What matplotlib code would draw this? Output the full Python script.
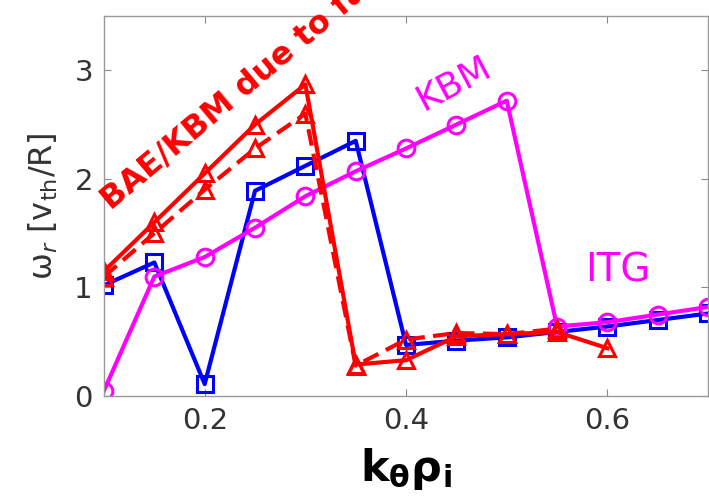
import matplotlib.pyplot as plt
import numpy as np

# k_theta rho_i values
k = [0.1, 0.15, 0.2, 0.25, 0.3, 0.35, 0.4, 0.45, 0.5, 0.55, 0.6, 0.65, 0.7]

w_blue = [1.02, 1.23, 0.11, 1.89, 2.12, 2.35, 0.47, 0.51, 0.54, 0.59, 0.64, 0.70, 0.76]
w_magenta = [0.05, 1.10, 1.28, 1.55, 1.84, 2.07, 2.28, 2.50, 2.72, 0.64, 0.68, 0.75, 0.82]
k_red = [0.1, 0.15, 0.2, 0.25, 0.3, 0.35, 0.4, 0.45, 0.5, 0.55, 0.6]
w_red = [1.15, 1.60, 2.05, 2.50, 2.87, 0.29, 0.33, 0.55, 0.57, 0.59, 0.44]
k_red_dash = [0.1, 0.15, 0.2, 0.25, 0.3, 0.35, 0.4, 0.45, 0.5, 0.55]
w_red_dash = [1.10, 1.50, 1.90, 2.28, 2.60, 0.28, 0.52, 0.58, 0.57, 0.62]

plt.rcParams['font.family'] = 'DejaVu Sans'

fig = plt.figure(figsize=(7.09, 4.97), dpi=100)
ax = fig.add_axes([0.1467, 0.2032, 0.852, 0.7646])

mk = dict(markersize=12, markeredgewidth=2.2, markerfacecolor='none', linewidth=3)
ax.plot(k, w_blue, 's-', color='#0000ff', **mk)
ax.plot(k, w_magenta, 'o-', color='#ff00ff', **mk)
ax.plot(k_red_dash, w_red_dash, '^--', color='#ff0000', dashes=(4, 2), **mk)
ax.plot(k_red, w_red, '^-', color='#ff0000', **mk)

ax.set_xlim(0.1, 0.7)
ax.set_ylim(0, 3.5)
ax.set_xticks([0.2, 0.4, 0.6])
ax.set_yticks([0, 1, 2, 3])
ax.tick_params(direction='in', top=True, right=True, length=5, width=0.8,
               color='#888888', labelsize=21, labelcolor='#333333', pad=8)
for s in ax.spines.values():
    s.set_color('#999999')
    s.set_linewidth(1)

ax.set_xlabel(r'$\mathbf{k_{\theta}\rho_i}$', fontsize=31, labelpad=8)
ax.set_ylabel(r'ω$_r$ [v$_{\rm th}$/R]', fontsize=23, color='#333333', labelpad=10)

ax.text(0.448, 2.88, 'KBM', color='#ff00ff', fontsize=26, rotation=28,
        ha='center', va='center')
ax.text(0.61, 1.16, 'ITG', color='#ff00ff', fontsize=28, ha='center', va='center')
ax.text(0.107, 1.71, 'BAE/KBM due to fast ions', color='#ff0000', fontsize=23,
        fontweight='bold', rotation=40, rotation_mode='anchor',
        ha='left', va='baseline', clip_on=False)

fig.savefig('out.png', dpi=100)
